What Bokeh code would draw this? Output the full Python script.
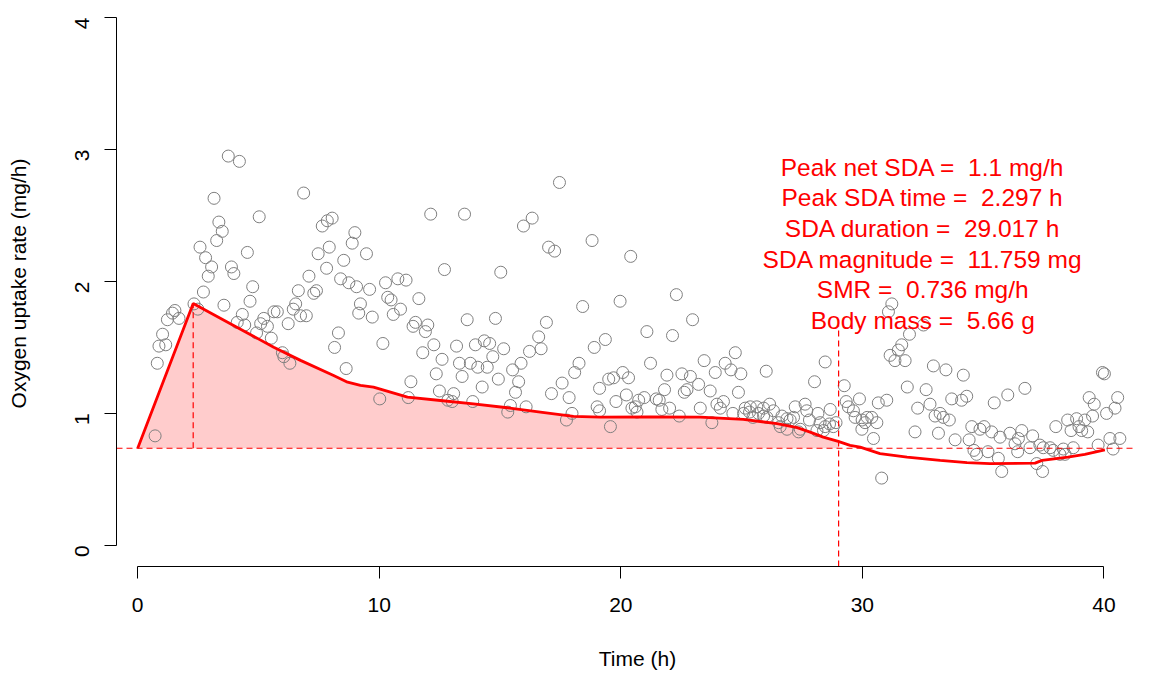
import numpy as np
from bokeh.plotting import figure
from bokeh.models import Range1d, FixedTicker, ColumnDataSource
from bokeh.core.properties import value
from bokeh.embed import file_html
from bokeh.resources import INLINE

# ---- data ----
time_h = [3.75, 4.21, 6.87, 3.16, 5.03, 3.36, 3.50, 3.27, 7.64, 7.85, 8.05, 8.99, 8.88, 2.58, 4.54, 7.93,
          7.47, 2.81, 8.53, 3.06, 2.92, 3.88, 3.98, 7.82, 7.09, 8.40, 8.74, 9.06, 4.76, 6.65, 7.29, 7.40,
          2.72, 4.65, 3.57, 2.33, 2.49, 6.54, 6.44, 5.78, 5.64, 6.74, 6.98, 1.54, 1.44, 1.23, 1.71, 9.22,
          9.15, 4.33, 5.22, 5.09, 5.37, 4.12, 4.43, 6.23, 4.92, 5.53, 8.31, 1.03, 0.88, 1.16, 8.15, 5.99,
          6.05, 6.30, 0.81, 8.63, 0.72,
          17.46, 12.13, 13.53, 16.33, 15.97, 18.81, 17.01, 17.26, 9.47, 12.70, 15.03, 9.60, 10.26, 10.77,
          11.11, 10.35, 10.49, 11.64, 9.71, 10.58, 10.88, 18.42, 13.64, 14.81, 16.92, 11.50, 11.40, 12.01,
          11.91, 10.15, 12.26, 13.20, 13.98, 14.35, 14.57, 15.15, 16.60, 16.22, 16.70, 18.90, 11.80, 12.60,
          14.70, 13.32, 13.77, 14.08, 14.47, 15.87, 15.52, 18.27, 18.09, 12.36, 13.43, 14.93, 15.77, 15.64,
          17.57, 11.31, 14.26, 12.49, 13.08, 12.84, 13.02, 17.13, 17.86, 19.12, 10.02, 11.20, 13.87, 15.43,
          15.32, 16.08, 17.98, 17.75, 19.02, 19.12,
          20.41, 19.97, 22.30, 22.97, 21.08, 22.14, 19.36, 21.23, 23.45, 23.91, 21.91, 22.53, 22.88, 23.22,
          19.50, 19.70, 20.08, 20.32, 20.23, 19.80, 21.81, 22.63, 22.74, 23.70, 20.74, 20.97, 21.47, 21.59,
          20.60, 20.46, 20.67, 21.70, 22.02, 22.42, 23.29, 23.98, 23.77, 19.57,
          24.74, 24.32, 24.56, 24.97, 26.02, 28.46, 28.02, 24.87, 24.25, 24.12, 24.64, 25.15, 25.36, 25.63,
          25.91, 26.16, 26.32, 25.08, 25.33, 25.47, 25.70, 25.91, 26.05, 26.67, 26.88, 27.01, 27.15, 26.53,
          26.60, 26.88, 27.36, 27.43, 27.22, 27.63, 27.70, 27.81, 28.16, 28.25, 28.46, 28.64, 28.80, 28.91,
          28.67, 28.12, 28.39, 29.25, 29.33,
          31.22, 31.08, 32.53, 31.95, 31.63, 31.49, 31.15, 31.35, 31.77, 32.94, 33.46, 34.18, 31.86, 32.64,
          36.73, 36.02, 34.32, 34.11, 33.70, 31.01, 30.66, 29.88, 29.42, 29.63, 35.46, 32.29, 32.80, 33.01,
          33.22, 33.35, 33.60, 29.70, 29.99, 30.20, 30.39, 30.11, 30.60, 29.98, 32.18, 33.15, 30.46, 33.84,
          34.53, 34.87, 35.04, 35.35, 34.42, 34.62, 34.73, 35.70, 36.11, 36.60, 36.46, 37.05, 36.32, 36.43,
          35.20, 35.63, 35.77, 36.94, 37.22, 37.46, 37.35, 37.49, 37.77, 37.90, 38.18, 38.32, 38.39, 38.73,
          38.01, 38.50, 38.87, 39.21, 39.53, 38.97, 38.64, 39.08, 39.33, 39.39, 39.60, 40.11, 40.46, 40.57,
          39.94, 40.02, 39.76, 40.25, 40.66, 40.38, 30.80]
vo2 = [2.95, 2.91, 2.67, 2.63, 2.49, 2.45, 2.38, 2.31, 2.42, 2.46, 2.48, 2.37, 2.29, 2.26, 2.22, 2.26,
       2.21, 2.18, 2.16, 2.11, 2.04, 2.11, 2.06, 2.10, 2.04, 2.02, 1.99, 1.96, 1.96, 1.93, 1.91, 1.93,
       1.92, 1.85, 1.82, 1.83, 1.79, 1.83, 1.79, 1.77, 1.77, 1.74, 1.74, 1.78, 1.76, 1.71, 1.72, 1.83,
       1.76, 1.75, 1.72, 1.68, 1.66, 1.69, 1.67, 1.68, 1.61, 1.57, 1.61, 1.60, 1.51, 1.52, 1.50, 1.46,
       1.43, 1.38, 1.38, 1.34, 0.83,
       2.75, 2.51, 2.51, 2.48, 2.42, 2.31, 2.26, 2.23, 2.21, 2.09, 2.07, 1.94, 1.99, 2.02,
       2.01, 1.88, 1.86, 1.87, 1.73, 1.75, 1.79, 1.81, 1.71, 1.72, 1.69, 1.69, 1.66, 1.67,
       1.62, 1.53, 1.52, 1.51, 1.52, 1.55, 1.53, 1.49, 1.58, 1.47, 1.49, 1.50, 1.46, 1.41,
       1.43, 1.38, 1.38, 1.35, 1.35, 1.38, 1.33, 1.38, 1.31, 1.30, 1.28, 1.26, 1.24, 1.16,
       1.23, 1.24, 1.20, 1.17, 1.15, 1.10, 1.09, 1.15, 1.12, 1.19, 1.11, 1.12, 1.09, 1.06,
       1.01, 1.05, 1.00, 0.95, 1.05, 1.02,
       2.19, 1.85, 1.90, 1.71, 1.62, 1.59, 1.56, 1.38, 1.40, 1.31, 1.29, 1.30, 1.28, 1.22,
       1.26, 1.27, 1.31, 1.27, 1.14, 1.09, 1.18, 1.16, 1.18, 1.17, 1.10, 1.12, 1.11, 1.10,
       1.05, 1.04, 1.01, 1.03, 1.04, 0.98, 1.04, 1.07, 0.93, 0.90,
       1.46, 1.38, 1.33, 1.30, 1.32, 1.39, 1.24, 1.16, 1.09, 1.04, 1.00, 1.04, 1.05, 1.05,
       1.04, 1.07, 1.02, 1.00, 1.01, 0.97, 1.00, 0.98, 0.97, 0.98, 0.96, 0.95, 0.97, 0.93,
       0.90, 0.88, 0.86, 0.88, 1.05, 1.07, 1.02, 0.95, 1.00, 0.93, 0.90, 0.92, 0.90, 0.93,
       1.03, 0.87, 0.87, 1.21, 1.09,
       1.83, 1.77, 1.67, 1.60, 1.52, 1.48, 1.44, 1.40, 1.40, 1.36, 1.33, 1.29, 1.20, 1.18,
       1.19, 1.14, 1.13, 1.10, 1.11, 1.10, 1.08, 1.11, 1.05, 1.02, 1.08, 1.04, 1.07, 0.98,
       1.00, 0.97, 0.95, 0.97, 0.95, 0.97, 0.97, 0.93, 0.93, 0.88, 0.86, 0.85, 0.81, 0.80,
       0.90, 0.88, 0.90, 0.86, 0.80, 0.72, 0.69, 0.82, 0.85, 0.87, 0.81, 0.83, 0.77, 0.71,
       0.71, 0.66, 0.56, 0.74, 0.62, 0.56, 0.76, 0.74, 0.74, 0.72, 0.69, 0.73, 0.69, 0.74,
       0.90, 0.95, 0.96, 0.95, 0.98, 0.90, 0.87, 0.87, 0.86, 1.12, 1.07, 1.00, 1.04, 1.12,
       1.31, 1.30, 0.76, 0.81, 0.81, 0.73, 0.51]

curve_t = [0.0, 2.297, 3.97, 5.63, 6.74, 8.11, 8.69, 9.22, 9.76, 11.17, 12.53, 13.90, 15.30, 16.67,
           18.04, 19.15, 21.22, 23.29, 25.07, 26.47, 27.30, 27.84, 28.38, 29.0, 29.49, 29.91, 30.73,
           31.85, 33.22, 34.33, 35.28, 37.15, 37.44, 38.51, 39.21, 40.04]
curve_v = [0.736, 1.833, 1.667, 1.502, 1.402, 1.288, 1.237, 1.212, 1.199, 1.123, 1.098, 1.073, 1.043,
           1.010, 0.977, 0.972, 0.973, 0.972, 0.955, 0.922, 0.892, 0.858, 0.820, 0.788, 0.758, 0.745,
           0.695, 0.669, 0.644, 0.627, 0.619, 0.623, 0.644, 0.669, 0.689, 0.723]

smr = 0.736
peak_time = 2.297
peak_net = 1.1
duration = 29.017
magnitude = 11.759
body_mass = 5.66

SP2 = " \u00a0"  # R pastes a double space after "="
labels = [f"Peak net SDA ={SP2}{peak_net} mg/h",
          f"Peak SDA time ={SP2}{peak_time} h",
          f"SDA duration ={SP2}{duration} h",
          f"SDA magnitude ={SP2}{magnitude} mg",
          f"SMR ={SP2}{smr} mg/h",
          f"Body mass ={SP2}{body_mass} g"]

x_ticks = [0, 10, 20, 30, 40]
y_ticks = [0, 1, 2, 3, 4]

# ---- figure ----
p = figure(width=1160, height=673, output_backend="svg", toolbar_location=None,
           x_range=Range1d(-0.878, 42.26), y_range=Range1d(-0.16, 4.129),
           min_border_left=116, min_border_right=2, min_border_top=0, min_border_bottom=107)
p.outline_line_color = None
p.xgrid.visible = False
p.ygrid.visible = False
p.background_fill_color = "white"
p.border_fill_color = "white"

FONT = "Liberation Sans"
for ax in (p.xaxis[0], p.yaxis[0]):
    ax.axis_line_color = "black"
    ax.axis_line_width = 1
    ax.major_tick_line_color = "black"
    ax.major_tick_in = 0
    ax.major_tick_out = 12
    ax.minor_tick_line_color = None
    ax.major_label_text_font = FONT
    ax.major_label_text_font_size = "21px"
    ax.major_label_text_color = "black"
    ax.axis_label_text_font = FONT
    ax.axis_label_text_font_size = "21px"
    ax.axis_label_text_font_style = "normal"
    ax.axis_label_text_color = "black"

p.xaxis[0].ticker = FixedTicker(ticks=x_ticks)
p.yaxis[0].ticker = FixedTicker(ticks=y_ticks)
p.xaxis[0].bounds = (x_ticks[0], x_ticks[-1])
p.yaxis[0].bounds = (y_ticks[0], y_ticks[-1])
p.xaxis[0].axis_label = "Time (h)"
p.yaxis[0].axis_label = "Oxygen uptake rate (mg/h)"
p.xaxis[0].major_label_standoff = 19
p.xaxis[0].axis_label_standoff = 32
p.yaxis[0].major_label_orientation = np.pi / 2
p.yaxis[0].major_label_standoff = 22
p.yaxis[0].axis_label_standoff = 36

# shaded SDA area (between curve and SMR up to the SDA duration)
ct = np.array(curve_t)
cv = np.array(curve_v)
mask = ct < duration
ft = np.append(ct[mask], duration)
fv = np.append(cv[mask], np.interp(duration, ct, cv))
p.varea(x=ft, y1=np.full_like(ft, smr), y2=fv, fill_color="#FFCCCC", fill_alpha=1.0)

# observations
src = ColumnDataSource(dict(t=time_h, v=vo2))
p.scatter("t", "v", source=src, marker="circle", size=12, fill_color=None,
          line_color="#7f7f7f", line_width=1)

# fitted curve
p.line(curve_t, curve_v, line_color="red", line_width=2.8)

# reference lines
p.segment(x0=[-0.878], y0=[smr], x1=[41.2], y1=[smr], line_color="red", line_width=1.2, line_dash="6 4")
p.segment(x0=[peak_time], y0=[smr], x1=[peak_time], y1=[smr + peak_net], line_color="red",
          line_width=1.2, line_dash="6 4")
p.segment(x0=[duration], y0=[-0.16], x1=[duration], y1=[1.667], line_color="red",
          line_width=1.2, line_dash="6 4")

# annotation text
ann_x = 32.5
ann_y0 = 2.866
ann_dy = 0.2323
p.text(x=[ann_x] * len(labels), y=[ann_y0 - i * ann_dy for i in range(len(labels))], text=labels,
       text_font=value(FONT), text_font_size="24.5px", text_color="red",
       text_align="center", text_baseline="alphabetic")

open("out.html", "w").write(file_html(p, INLINE))
